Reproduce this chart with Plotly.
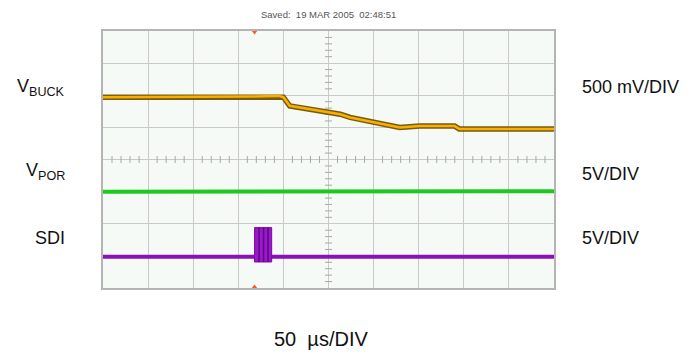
import plotly.graph_objects as go

# ---- data (x in microseconds, y in screen divisions, centre = 0) ----
vbuck_t = [0, 150, 165, 195, 200, 207, 263, 274, 329, 351, 390, 395, 500]
vbuck_v = [1.94, 1.95, 1.96, 1.98, 1.94, 1.67, 1.41, 1.31, 1.0, 1.04, 1.04, 0.95, 0.95]

vpor_t = [0, 200, 210, 500]
vpor_v = [-1.0, -1.0, -0.98, -0.99]

sdi_t = [0, 500]
sdi_v = [-3.03, -3.03]
burst_t = [168, 187]
burst_hi = -2.12
burst_lo = -3.19
burst_stripes = [173, 178, 183]

trigger_t = 168
ch_markers_v = [-1.0, -1.94, -3.0]

left_labels = ["V<sub>BUCK</sub>", "V<sub>POR</sub>", "SDI"]
left_label_y = [2.25, -0.38, -2.45]
right_labels = ["500 mV/DIV", "5V/DIV", "5V/DIV"]
right_label_y = [2.25, -0.45, -2.45]

FONT = "Liberation Sans, Arial, sans-serif"

fig = go.Figure()

# minor graticule ticks on centre lines
minor_x = [i * 10 for i in range(1, 50) if i % 5 != 0]
minor_y = [round(-4 + i * 0.2, 2) for i in range(1, 40) if i % 5 != 0]
fig.add_trace(go.Scatter(x=minor_x, y=[0] * len(minor_x), mode="markers",
                         marker=dict(symbol="line-ns", size=5, line=dict(width=1, color="#a8a8a8")),
                         hoverinfo="skip", showlegend=False))
fig.add_trace(go.Scatter(x=[250] * len(minor_y), y=minor_y, mode="markers",
                         marker=dict(symbol="line-ew", size=5, line=dict(width=1, color="#a8a8a8")),
                         hoverinfo="skip", showlegend=False))

# VBUCK (dark noisy edge + orange core)
fig.add_trace(go.Scatter(x=vbuck_t, y=vbuck_v, mode="lines",
                         line=dict(color="#7a5a10", width=5.5), showlegend=False))
fig.add_trace(go.Scatter(x=vbuck_t, y=vbuck_v, mode="lines",
                         line=dict(color="#f5b000", width=2.5), showlegend=False))

# VPOR
fig.add_trace(go.Scatter(x=vpor_t, y=vpor_v, mode="lines",
                         line=dict(color="#1fc81f", width=4), showlegend=False))

# SDI
fig.add_trace(go.Scatter(x=sdi_t, y=sdi_v, mode="lines",
                         line=dict(color="#8c10b8", width=4), showlegend=False))
fig.add_trace(go.Scatter(x=[burst_t[0], burst_t[0], burst_t[1], burst_t[1], burst_t[0]],
                         y=[burst_lo, burst_hi, burst_hi, burst_lo, burst_lo],
                         mode="lines", fill="toself", fillcolor="#9a18cc",
                         line=dict(color="#7a0aa0", width=1), showlegend=False))
for s in burst_stripes:
    fig.add_trace(go.Scatter(x=[s, s], y=[burst_lo, burst_hi], mode="lines",
                             line=dict(color="#5e0880", width=1.5), showlegend=False))

# trigger markers
fig.add_trace(go.Scatter(x=[trigger_t, trigger_t], y=[4, -4], mode="markers",
                         marker=dict(symbol=["triangle-down", "triangle-up"], size=7,
                                     color="#ff5a1f"),
                         cliponaxis=False, showlegend=False))

# channel level markers on the right edge
fig.add_trace(go.Scatter(x=[510.5] * 3, y=ch_markers_v, mode="markers",
                         marker=dict(symbol="line-ew", size=19,
                                     line=dict(width=3, color="#ee0000")),
                         cliponaxis=False, showlegend=False))

ann = []
for t, y in zip(left_labels, left_label_y):
    ann.append(dict(text=t, x=-0.08, xref="paper", y=y, yref="y", xanchor="right",
                    yanchor="middle", showarrow=False, font=dict(size=18, color="#111", family=FONT)))
for t, y in zip(right_labels, right_label_y):
    ann.append(dict(text=t, x=1.058, xref="paper", y=y, yref="y", xanchor="left",
                    yanchor="middle", showarrow=False, font=dict(size=18, color="#111", family=FONT)))
ann.append(dict(text="50\u00a0\u00a0\u00b5s/DIV", x=0.483, xref="paper", y=-0.2, yref="paper",
                xanchor="center", yanchor="middle", showarrow=False,
                font=dict(size=20, color="#111", family=FONT)))
ann.append(dict(text="Saved:  19 MAR 2005  02:48:51", x=0.5, xref="paper", y=1.066, yref="paper",
                xanchor="center", yanchor="middle", showarrow=False,
                font=dict(size=9.5, color="#555", family=FONT)))

fig.update_layout(
    width=697, height=352,
    margin=dict(l=103, r=143, t=31, b=64, autoexpand=False),
    paper_bgcolor="white", plot_bgcolor="#f6faf7",
    annotations=ann,
    xaxis=dict(range=[0, 500], dtick=50, showgrid=True, gridcolor="#c9c9c9", gridwidth=1,
               showticklabels=False, ticks="", zeroline=False, showline=True,
               linecolor="#b4b4b4", linewidth=2, mirror=True, fixedrange=True),
    yaxis=dict(range=[-4, 4], dtick=1, showgrid=True, gridcolor="#c9c9c9", gridwidth=1,
               showticklabels=False, ticks="", zeroline=False, showline=True,
               linecolor="#b4b4b4", linewidth=2, mirror=True, fixedrange=True),
)

fig.write_html("out.html", config={"displayModeBar": False},
               post_script="document.body.style.margin='0';document.body.style.overflow='hidden';")
